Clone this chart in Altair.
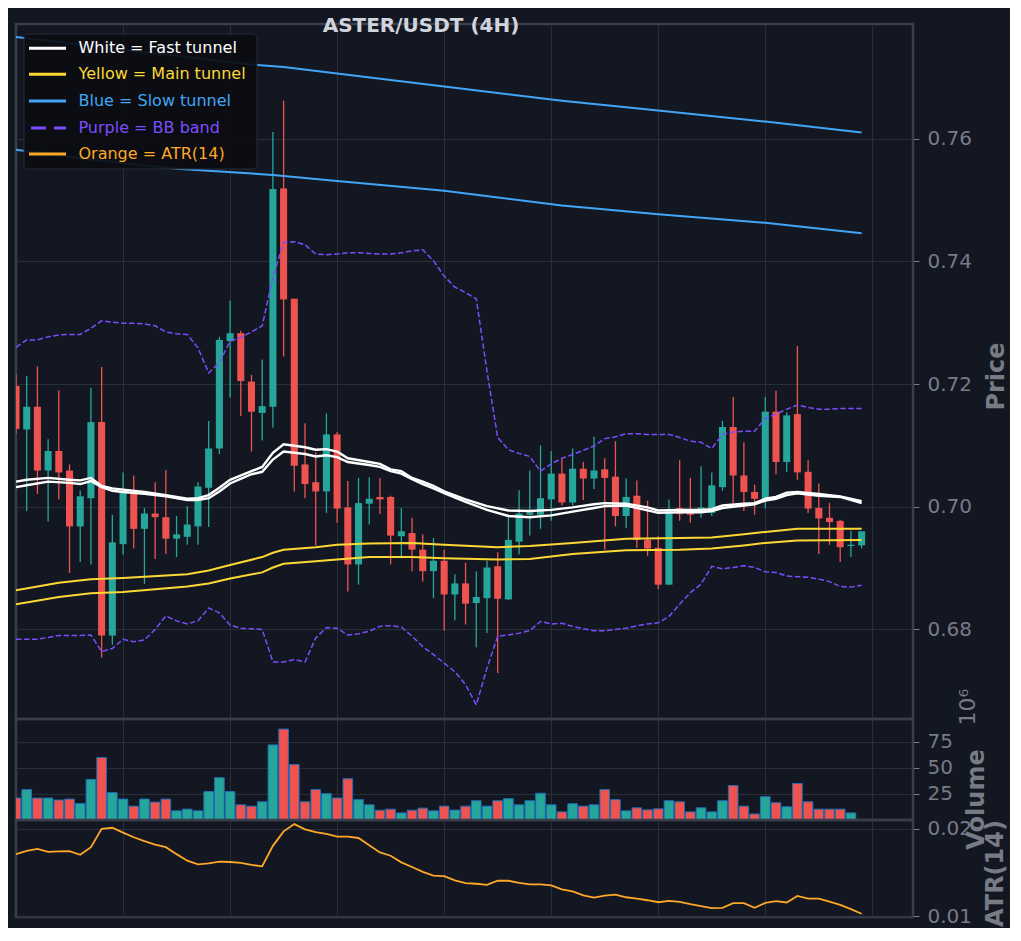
import altair as alt
import pandas as pd

# ---------------- data ----------------
idx = list(range(80))
opens = [0.7197, 0.7126, 0.7163, 0.7059, 0.7091, 0.7059, 0.6968, 0.7014, 0.7138, 0.6790,
         0.6939, 0.7021, 0.6964, 0.6989, 0.6983, 0.6948, 0.6951, 0.6968, 0.7031, 0.7095,
         0.7270, 0.7283, 0.7204, 0.7153, 0.7163, 0.7519, 0.7339, 0.7069, 0.7040, 0.7025,
         0.7118, 0.6999, 0.6906, 0.7005, 0.7016, 0.7016, 0.6952, 0.6957, 0.6930, 0.6895,
         0.6912, 0.6857, 0.6875, 0.6843, 0.6851, 0.6903, 0.6849, 0.6943, 0.6987, 0.6987,
         0.7012, 0.7054, 0.7007, 0.7062, 0.7046, 0.7061, 0.7049, 0.6985, 0.7018, 0.6946,
         0.6933, 0.6873, 0.6998, 0.6990, 0.6990, 0.6990, 0.7032, 0.7130, 0.7051, 0.7024,
         0.7013, 0.7155, 0.7073, 0.7151, 0.7057, 0.6998, 0.6982, 0.6977, 0.6936, 0.6937]
highs = [0.7216, 0.7213, 0.7229, 0.7110, 0.7190, 0.7069, 0.7027, 0.7194, 0.7228, 0.6987,
         0.7056, 0.7051, 0.6998, 0.7040, 0.7060, 0.6985, 0.7001, 0.7040, 0.7140, 0.7277,
         0.7336, 0.7287, 0.7215, 0.7240, 0.7611, 0.7662, 0.7339, 0.7136, 0.7089, 0.7152,
         0.7122, 0.7042, 0.7047, 0.7048, 0.7047, 0.7018, 0.6998, 0.6982, 0.6955, 0.6949,
         0.6930, 0.6890, 0.6909, 0.6895, 0.6912, 0.6926, 0.6987, 0.7027, 0.7059, 0.7100,
         0.7091, 0.7078, 0.7095, 0.7073, 0.7114, 0.7079, 0.7107, 0.7046, 0.7043, 0.7010,
         0.6952, 0.7012, 0.7076, 0.7047, 0.7066, 0.7056, 0.7140, 0.7179, 0.7105, 0.7036,
         0.7179, 0.7189, 0.7154, 0.7262, 0.7076, 0.7038, 0.7006, 0.6979, 0.6961, 0.6960]
lows = [0.7120, 0.6993, 0.7021, 0.6976, 0.7012, 0.6892, 0.6910, 0.6906, 0.6754, 0.6775,
        0.6922, 0.6932, 0.6874, 0.6915, 0.6923, 0.6918, 0.6938, 0.6938, 0.6967, 0.7086,
        0.7178, 0.7148, 0.7090, 0.7108, 0.7129, 0.7245, 0.7025, 0.7014, 0.6937, 0.6990,
        0.6974, 0.6862, 0.6873, 0.6971, 0.6988, 0.6906, 0.6916, 0.6895, 0.6878, 0.6851,
        0.6798, 0.6815, 0.6808, 0.6771, 0.6794, 0.6729, 0.6848, 0.6922, 0.6953, 0.6964,
        0.6977, 0.7002, 0.7002, 0.7011, 0.7029, 0.6930, 0.6968, 0.6965, 0.6933, 0.6920,
        0.6866, 0.6873, 0.6977, 0.6974, 0.6982, 0.6985, 0.7026, 0.7006, 0.6993, 0.6987,
        0.6997, 0.7053, 0.7057, 0.7044, 0.6990, 0.6923, 0.6938, 0.6910, 0.6918, 0.6932]
closes = [0.7127, 0.7163, 0.7059, 0.7091, 0.7056, 0.6968, 0.7017, 0.7138, 0.6790, 0.6942,
          0.7023, 0.6964, 0.6989, 0.6983, 0.6948, 0.6955, 0.6971, 0.7033, 0.7095, 0.7272,
          0.7283, 0.7205, 0.7155, 0.7164, 0.7518, 0.7338, 0.7067, 0.7037, 0.7025, 0.7118,
          0.6997, 0.6906, 0.7006, 0.7013, 0.7012, 0.6953, 0.6960, 0.6930, 0.6895, 0.6912,
          0.6857, 0.6875, 0.6842, 0.6853, 0.6901, 0.6850, 0.6946, 0.6989, 0.6991, 0.7014,
          0.7054, 0.7007, 0.7062, 0.7046, 0.7059, 0.7047, 0.6985, 0.7016, 0.6946, 0.6932,
          0.6873, 0.6993, 0.6988, 0.6987, 0.6999, 0.7035, 0.7130, 0.7051, 0.7024, 0.7013,
          0.7155, 0.7073, 0.7149, 0.7056, 0.6997, 0.6981, 0.6975, 0.6934, 0.6938, 0.6960]
volumes = [21.1, 29.2, 21.1, 21.1, 19.2, 20.1, 15.9, 39.0, 60.0, 26.3,
           20.1, 13.3, 20.1, 17.2, 20.1, 8.8, 10.4, 8.8, 27.3, 40.6,
           27.3, 14.6, 13.3, 17.5, 72.1, 87.3, 53.2, 17.5, 29.2, 25.3,
           21.1, 39.6, 19.5, 14.6, 9.4, 10.4, 6.8, 9.4, 11.4, 8.8,
           13.3, 9.5, 13.3, 18.5, 13.3, 18.5, 20.5, 14.6, 18.5, 25.7,
           14.6, 7.8, 15.6, 13.3, 14.6, 29.2, 19.5, 8.8, 11.7, 9.7,
           10.7, 18.5, 17.5, 7.8, 11.7, 7.8, 18.5, 33.1, 13.3, 5.8,
           22.4, 16.6, 12.7, 35.1, 17.5, 10.4, 10.4, 10.4, 6.8, 0.6]
atr14 = [0.01709, 0.01747, 0.01770, 0.01736, 0.01740, 0.01743, 0.01702, 0.01789, 0.02000, 0.02011,
         0.01955, 0.01902, 0.01857, 0.01819, 0.01789, 0.01709, 0.01634, 0.01592, 0.01604, 0.01623,
         0.01619, 0.01608, 0.01585, 0.01570, 0.01804, 0.01970, 0.02053, 0.01992, 0.01962, 0.01940,
         0.01909, 0.01909, 0.01894, 0.01811, 0.01728, 0.01691, 0.01615, 0.01562, 0.01506, 0.01464,
         0.01457, 0.01408, 0.01377, 0.01370, 0.01358, 0.01404, 0.01404, 0.01381, 0.01362, 0.01362,
         0.01351, 0.01306, 0.01283, 0.01238, 0.01211, 0.01234, 0.01245, 0.01215, 0.01200, 0.01181,
         0.01158, 0.01174, 0.01162, 0.01136, 0.01113, 0.01091, 0.01094, 0.01147, 0.01147, 0.01094,
         0.01150, 0.01170, 0.01155, 0.01230, 0.01200, 0.01200, 0.01166, 0.01128, 0.01079, 0.01026]

# Fast tunnel (white), two lines
fast_idx = [0, 1, 3, 5, 6, 7, 8, 9, 10, 12, 14, 16, 17, 18, 19, 20, 22, 23, 24, 25,
            27, 28, 29, 30, 31, 33, 34, 35, 36, 37, 38, 39, 40, 42, 44, 46, 48, 50, 52, 54,
            55, 57, 59, 60, 62, 64, 65, 66, 68, 69, 70, 71, 72, 73, 75, 77, 79]
fast_a = [0.7041, 0.7044, 0.7047, 0.7044, 0.7043, 0.7047, 0.7034, 0.7030, 0.7028, 0.7024,
          0.7019, 0.7013, 0.7014, 0.7019, 0.7031, 0.7044, 0.7058, 0.7065, 0.7088, 0.7102,
          0.7097, 0.7093, 0.7094, 0.7090, 0.7079, 0.7073, 0.7070, 0.7061, 0.7058, 0.7047,
          0.7041, 0.7034, 0.7025, 0.7012, 0.7001, 0.6994, 0.6993, 0.6995, 0.6999, 0.7004,
          0.7006, 0.7005, 0.6999, 0.6994, 0.6995, 0.6995, 0.6996, 0.7002, 0.7005, 0.7006,
          0.7013, 0.7016, 0.7023, 0.7024, 0.7021, 0.7017, 0.7009]
fast_b = [0.7032, 0.7035, 0.7041, 0.7039, 0.7037, 0.7042, 0.7032, 0.7026, 0.7024, 0.7021,
          0.7017, 0.7011, 0.7011, 0.7014, 0.7025, 0.7038, 0.7053, 0.7057, 0.7077, 0.7090,
          0.7086, 0.7082, 0.7084, 0.7081, 0.7073, 0.7068, 0.7065, 0.7058, 0.7054, 0.7045,
          0.7037, 0.7030, 0.7022, 0.7008, 0.6995, 0.6985, 0.6983, 0.6986, 0.6992, 0.6998,
          0.7001, 0.7002, 0.6994, 0.6990, 0.6991, 0.6991, 0.6993, 0.6998, 0.7002, 0.7004,
          0.7010, 0.7013, 0.7019, 0.7022, 0.7018, 0.7016, 0.7006]

# Main tunnel (yellow), two lines
main_idx = [0, 4, 7, 10, 16, 18, 20, 23, 24, 25, 28, 30, 33, 37, 40, 45, 48, 52, 57, 62,
            65, 68, 70, 73, 79]
main_a = [0.6864, 0.6876, 0.6882, 0.6884, 0.6890, 0.6896, 0.6905, 0.6918, 0.6925, 0.6930,
          0.6934, 0.6938, 0.6940, 0.6941, 0.6938, 0.6934, 0.6936, 0.6941, 0.6948, 0.6949,
          0.6950, 0.6955, 0.6959, 0.6964, 0.6964]
main_b = [0.6841, 0.6853, 0.6859, 0.6861, 0.6870, 0.6875, 0.6883, 0.6893, 0.6901, 0.6907,
          0.6911, 0.6914, 0.6918, 0.6918, 0.6916, 0.6914, 0.6915, 0.6923, 0.6929, 0.6930,
          0.6932, 0.6937, 0.6941, 0.6945, 0.6946]

# Slow tunnel (blue), two lines
slow_a_idx = [0, 10, 22, 25, 40, 51, 60, 70, 79]
slow_a = [0.7766, 0.7745, 0.7721, 0.7717, 0.7685, 0.7662, 0.7646, 0.7628, 0.7610]
slow_b_idx = [0, 7, 15, 24, 30, 40, 51, 60, 70, 79]
slow_b = [0.7582, 0.7566, 0.7551, 0.7541, 0.7531, 0.7515, 0.7491, 0.7477, 0.7463, 0.7446]

# Bollinger band (purple dashed)
bb_upper = [0.7260, 0.7272, 0.7272, 0.7277, 0.7280, 0.7281, 0.7281, 0.7291, 0.7303, 0.7301,
            0.7299, 0.7299, 0.7298, 0.7295, 0.7285, 0.7282, 0.7281, 0.7259, 0.7218, 0.7235,
            0.7270, 0.7276, 0.7285, 0.7295, 0.7374, 0.7431, 0.7432, 0.7427, 0.7412, 0.7411,
            0.7412, 0.7414, 0.7414, 0.7413, 0.7412, 0.7412, 0.7414, 0.7417, 0.7419, 0.7401,
            0.7376, 0.7358, 0.7349, 0.7339, 0.7221, 0.7113, 0.7093, 0.7087, 0.7082, 0.7058,
            0.7070, 0.7079, 0.7085, 0.7092, 0.7099, 0.7111, 0.7114, 0.7119, 0.7119, 0.7118,
            0.7118, 0.7118, 0.7113, 0.7107, 0.7105, 0.7095, 0.7118, 0.7122, 0.7123, 0.7123,
            0.7144, 0.7151, 0.7159, 0.7166, 0.7162, 0.7159, 0.7159, 0.7160, 0.7160, 0.7160]
bb_lower = [0.6784, 0.6784, 0.6784, 0.6787, 0.6790, 0.6790, 0.6790, 0.6791, 0.6764, 0.6769,
            0.6784, 0.6780, 0.6783, 0.6800, 0.6822, 0.6814, 0.6809, 0.6814, 0.6835, 0.6827,
            0.6807, 0.6802, 0.6801, 0.6800, 0.6747, 0.6747, 0.6751, 0.6747, 0.6786, 0.6803,
            0.6802, 0.6791, 0.6793, 0.6797, 0.6805, 0.6806, 0.6804, 0.6789, 0.6772, 0.6759,
            0.6745, 0.6731, 0.6710, 0.6677, 0.6737, 0.6789, 0.6791, 0.6794, 0.6798, 0.6813,
            0.6809, 0.6810, 0.6805, 0.6801, 0.6798, 0.6798, 0.6800, 0.6802, 0.6806, 0.6809,
            0.6811, 0.6821, 0.6841, 0.6860, 0.6874, 0.6903, 0.6899, 0.6901, 0.6904, 0.6901,
            0.6894, 0.6893, 0.6887, 0.6886, 0.6885, 0.6882, 0.6878, 0.6870, 0.6869, 0.6872]

price_ticks = [0.68, 0.70, 0.72, 0.74, 0.76]
volume_ticks = [25, 50, 75]
atr_ticks = [0.01, 0.02]
x_grid = [10, 20, 30, 40, 50, 60, 70, 80]

legend_labels = ["White = Fast tunnel", "Yellow = Main tunnel", "Blue = Slow tunnel",
                 "Purple = BB band", "Orange = ATR(14)"]

# ---------------- styles ----------------
BG = "#131722"
GRID = "#2a2e39"
SPINE = "#3a3e4a"
TXT = "#787b86"
UP = "#26a69a"
DOWN = "#ef5350"
WHITE = "#ffffff"
YELLOW = "#fdd835"
BLUE = "#42a5f5"
PURPLE = "#7c4dff"
ORANGE = "#ffa726"
FONT = "DejaVu Sans"

W = 897
H_MAIN, H_VOL, H_ATR = 695, 101, 97

df = pd.DataFrame({"i": idx, "open": opens, "high": highs, "low": lows,
                   "close": closes, "volume": volumes, "atr": atr14})
df["dir"] = ["up" if c >= o else "down" for o, c in zip(opens, closes)]
one = pd.DataFrame({"k": [0]})

xscale = alt.Scale(domain=[0, 83.8], nice=False, zero=False)
xaxis = alt.Axis(values=x_grid, labels=False, ticks=False, domain=False, grid=True,
                 title=None, minExtent=0, maxExtent=0)


def X(field="i"):
    return alt.X(f"{field}:Q", scale=xscale, axis=xaxis)


dircolor = alt.Color("dir:N", scale=alt.Scale(domain=["up", "down"], range=[UP, DOWN]), legend=None)

pscale = alt.Scale(domain=[0.6654, 0.7787], nice=False, zero=False)
paxis = alt.Axis(orient="right", values=price_ticks, format=".2f", title="Price",
                 titleX=83, titleY=352, titleAngle=270, titleAlign="center", titleBaseline="middle")


def PY(field):
    return alt.Y(f"{field}:Q", scale=pscale, axis=paxis)


base = alt.Chart(df)
wicks = base.mark_rule(strokeWidth=1.3, clip=True).encode(
    x=X(), y=PY("low"), y2="high:Q", color=dircolor)
bodies = base.transform_calculate(x0="datum.i - 0.33", x1="datum.i + 0.33").mark_bar(clip=True).encode(
    x=X("x0"), x2="x1:Q", y=PY("open"), y2="close:Q", color=dircolor)


def line_layer(ix, vals, color, width, dash=None):
    d = pd.DataFrame({"i": ix, "v": vals})
    kw = dict(color=color, strokeWidth=width, clip=True)
    if dash:
        kw["strokeDash"] = dash
    return alt.Chart(d).mark_line(**kw).encode(x=X(), y=PY("v"))


lines = [
    line_layer(idx, bb_upper, PURPLE, 1.5, [5.5, 2.5]),
    line_layer(idx, bb_lower, PURPLE, 1.5, [5.5, 2.5]),
    line_layer(slow_a_idx, slow_a, BLUE, 2),
    line_layer(slow_b_idx, slow_b, BLUE, 2),
    line_layer(main_idx, main_a, YELLOW, 2),
    line_layer(main_idx, main_b, YELLOW, 2),
    line_layer(fast_idx, fast_a, WHITE, 2.4),
    line_layer(fast_idx, fast_b, WHITE, 2.4),
]

# legend box (decoration)
leg = [alt.Chart(one).mark_rect(fill="#0b0d12", opacity=0.92, stroke="#2a2e39", strokeWidth=1,
                                cornerRadius=4).encode(
    x=alt.value(8), x2=alt.value(241), y=alt.value(10), y2=alt.value(145))]
leg_colors = [WHITE, YELLOW, BLUE, PURPLE, ORANGE]
leg_y = [24.3, 50.3, 77, 104, 130]
for lab, col, yy in zip(legend_labels, leg_colors, leg_y):
    rk = dict(color=col, strokeWidth=3)
    x_start = 13
    if col == PURPLE:
        rk["strokeDash"] = [15, 8]
        x_start = 15
    leg.append(alt.Chart(one).mark_rule(**rk).encode(
        x=alt.value(x_start), x2=alt.value(50), y=alt.value(yy)))
    leg.append(alt.Chart(one).mark_text(align="left", baseline="middle", fontSize=16, font=FONT,
                                        color=col).encode(
        x=alt.value(62.5), y=alt.value(yy), text=alt.value(lab)))

title = alt.Chart(one).mark_text(align="center", baseline="middle", fontSize=20, fontWeight="bold",
                                 font=FONT, color="#d1d4dc").encode(
    x=alt.value(405), y=alt.value(2), text=alt.value("ASTER/USDT (4H)"))

main = alt.layer(wicks, bodies, *lines, *leg, title).properties(width=W, height=H_MAIN)

# volume panel
vaxis = alt.Axis(orient="right", values=volume_ticks, title="Volume", titleX=63, titleY=80,
                 titleAngle=270, titleAlign="center", titleBaseline="middle")
vol = alt.Chart(df).transform_calculate(x0="datum.i - 0.45", x1="datum.i + 0.45").mark_bar(
    stroke="#1f6fb5", strokeWidth=1, clip=True).encode(
    x=X("x0"), x2="x1:Q",
    y=alt.Y("volume:Q", scale=alt.Scale(domain=[0, 97], nice=False), axis=vaxis),
    y2=alt.datum(0),
    color=dircolor)
offset_txt = alt.Chart(one).mark_text(align="center", baseline="middle", fontSize=22, font=FONT,
                                      color=TXT, angle=270).encode(
    x=alt.value(952), y=alt.value(-12), text=alt.value("10⁶"))
volc = alt.layer(vol, offset_txt).properties(width=W, height=H_VOL)

# ATR panel
aaxis = alt.Axis(orient="right", values=atr_ticks, format=".2f", title="ATR(14)", titleX=82,
                 titleY=53, titleAngle=270, titleAlign="center", titleBaseline="middle")
atrc = alt.Chart(df).mark_line(color=ORANGE, strokeWidth=1.8, clip=True).encode(
    x=X(), y=alt.Y("atr:Q", scale=alt.Scale(domain=[0.00989, 0.0210], nice=False, zero=False),
                   axis=aaxis)).properties(width=W, height=H_ATR)

chart = alt.vconcat(main, volc, atrc, spacing=0, bounds="flush").configure(
    background=BG, padding={"left": 6, "top": 6, "right": 0, "bottom": 0}, font=FONT
).configure_view(stroke=SPINE, strokeWidth=2.5).configure_axis(
    labelFont=FONT, labelFontSize=20, labelColor=TXT, tickColor=TXT, tickSize=6, tickWidth=1,
    labelPadding=8, domain=False, gridColor=GRID, gridWidth=1, titleFont=FONT, titleFontSize=24,
    titleFontWeight="bold", titleColor=TXT)

chart.save("out.html", embed_options={"renderer": "svg", "actions": False})
